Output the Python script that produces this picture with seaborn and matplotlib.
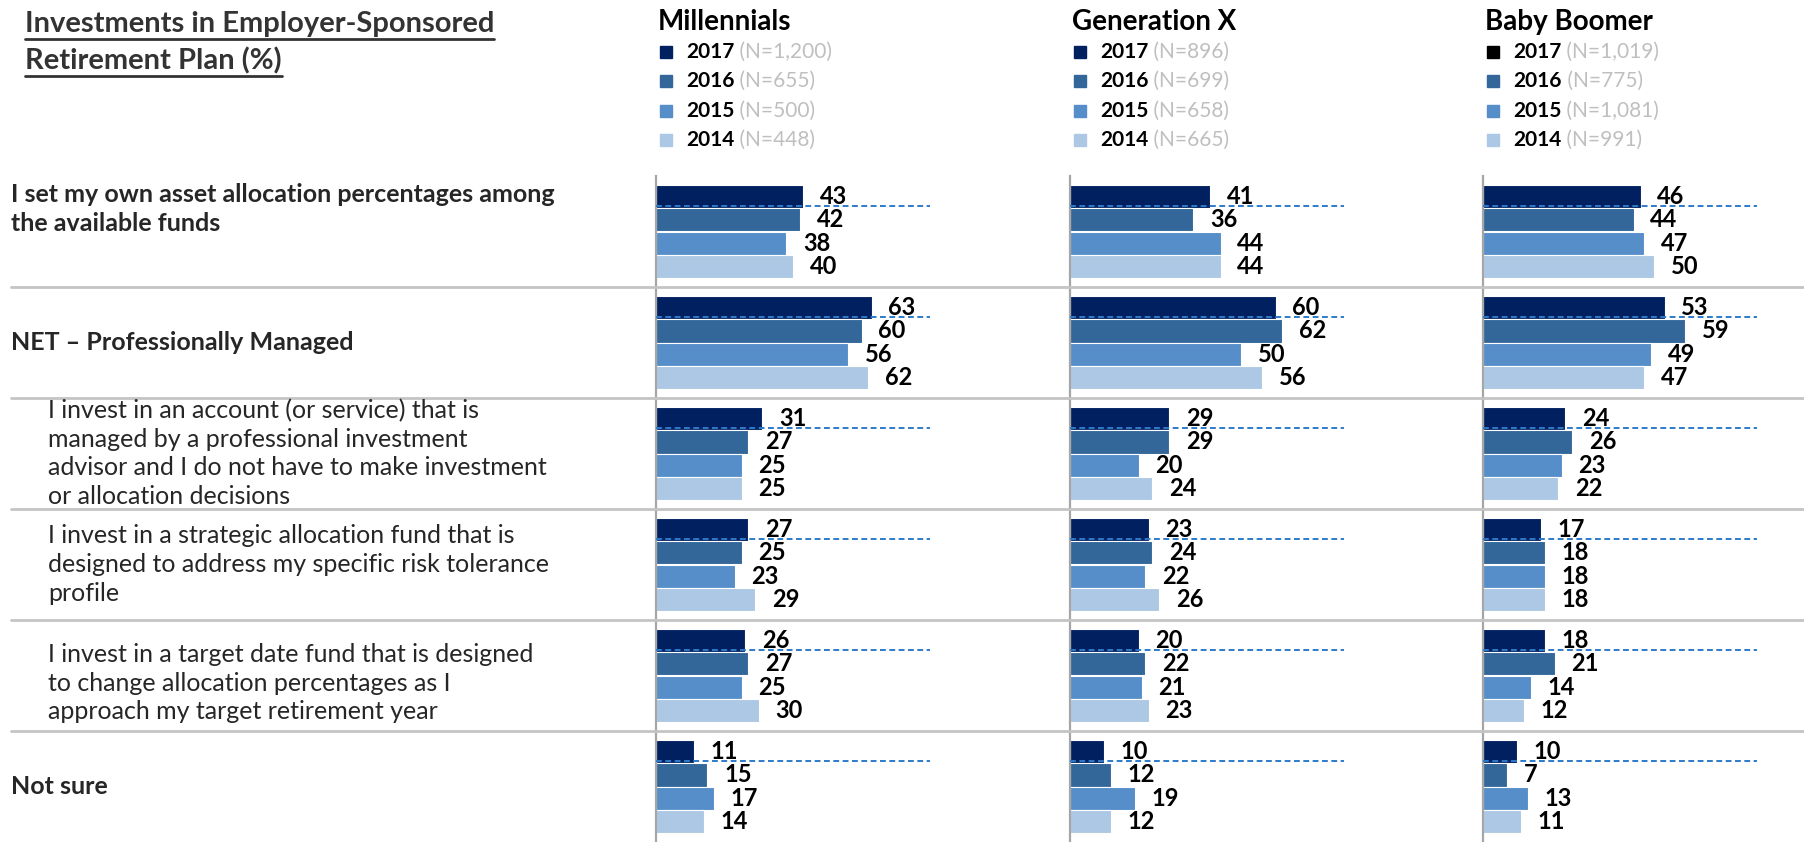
import pandas as pd
import seaborn as sns
import matplotlib.pyplot as plt
import matplotlib.transforms as mtransforms
from matplotlib.lines import Line2D

sns.set_style('white')
plt.rcParams['font.family'] = ['Lato', 'DejaVu Sans']

# ---- data ----
years = ['2017', '2016', '2015', '2014']
colors = ['#002060', '#336699', '#558ec9', '#adc8e4']

items = [
    'I set my own asset allocation percentages among\nthe available funds',
    'NET \u2013 Professionally Managed',
    'I invest in an account (or service) that is\nmanaged by a professional investment\nadvisor and I do not have to make investment\nor allocation decisions',
    'I invest in a strategic allocation fund that is\ndesigned to address my specific risk tolerance\nprofile',
    'I invest in a target date fund that is designed\nto change allocation percentages as I\napproach my target retirement year',
    'Not sure',
]
item_bold = [True, True, False, False, False, True]

groups = ['Millennials', 'Generation X', 'Baby Boomer']
sample_sizes = {
    'Millennials': ['N=1,200', 'N=655', 'N=500', 'N=448'],
    'Generation X': ['N=896', 'N=699', 'N=658', 'N=665'],
    'Baby Boomer': ['N=1,019', 'N=775', 'N=1,081', 'N=991'],
}

# values per item, in year order 2017, 2016, 2015, 2014
millennials = [
    [43, 42, 38, 40],
    [63, 60, 56, 62],
    [31, 27, 25, 25],
    [27, 25, 23, 29],
    [26, 27, 25, 30],
    [11, 15, 17, 14],
]
gen_x = [
    [41, 36, 44, 44],
    [60, 62, 50, 56],
    [29, 29, 20, 24],
    [23, 24, 22, 26],
    [20, 22, 21, 23],
    [10, 12, 19, 12],
]
boomers = [
    [46, 44, 47, 50],
    [53, 59, 49, 47],
    [24, 26, 23, 22],
    [17, 18, 18, 18],
    [18, 21, 14, 12],
    [10, 7, 13, 11],
]
values = {'Millennials': millennials, 'Generation X': gen_x, 'Baby Boomer': boomers}

rows = []
for g in groups:
    for i, vals in enumerate(values[g]):
        for y, v in zip(years, vals):
            rows.append({'group': g, 'item': i, 'year': y, 'value': v})
df = pd.DataFrame(rows)

# ---- layout ----
W, H = 1804, 842
fig = plt.figure(figsize=(W / 100, H / 100), dpi=100)

panel_left = [656, 1070, 1483]
panel_w = 274
panel_top = 176

axes = []
for k, g in enumerate(groups):
    ax = fig.add_axes([panel_left[k] / W, 0, panel_w / W, (H - panel_top) / H])
    ax.set_facecolor('none')
    d = df[df['group'] == g]
    sns.barplot(data=d, y='item', x='value', hue='year', hue_order=years,
                order=list(range(len(items))), orient='h', palette=colors,
                saturation=1, width=0.83, edgecolor='white', linewidth=0.8,
                legend=False, ax=ax)
    ax.set_xlim(0, 80)
    ax.set_ylim(len(items) - 0.5, -0.5)
    ax.set_xlabel('')
    ax.set_ylabel('')
    ax.set_xticks([])
    ax.set_yticks([])
    for s in ['top', 'right', 'bottom']:
        ax.spines[s].set_visible(False)
    ax.spines['left'].set_color('#a6a6a6')
    ax.spines['left'].set_linewidth(1.6)

    for cont in ax.containers:
        ax.bar_label(cont, padding=12, fontsize=17, fontweight='bold', color='black')

    # dashed reference line at the 2017 bar
    for bar in ax.containers[0]:
        yd = bar.get_y() + bar.get_height() * 0.88
        ax.plot(ax.get_xlim(), [yd, yd], ls=(0, (3, 1.8)), color='#2e7bc9',
                lw=1.4, clip_on=False, zorder=5)
    axes.append(ax)

# separators across the whole figure
trans = mtransforms.blended_transform_factory(fig.transFigure, axes[0].transData)
for i in range(len(items) - 1):
    fig.add_artist(Line2D([11 / W, 1.0], [i + 0.5, i + 0.5], transform=trans,
                          color='#c4c4c4', lw=2, zorder=1))

# row labels (small vertical nudges as in the original)
label_nudge = [-0.2, 0, 0.0, 0, 0.07, 0]
for i, (lab, b) in enumerate(zip(items, item_bold)):
    x = 11 / W if b else 48 / W
    fig.text(x, i + label_nudge[i], lab, transform=trans, va='center', ha='left',
             fontsize=18, fontweight='bold' if b else 'normal',
             color='#262626', linespacing=1.3)

# title with underline
title_lines = ['Investments in Employer-Sponsored', 'Retirement Plan (%)']
title_texts = []
for j, t in enumerate(title_lines):
    title_texts.append(fig.text(25 / W, 1 - (24 + 37 * j) / H, t, va='center', ha='left',
                                fontsize=21, fontweight='bold', color='#333333'))

# legends per generation
bg = fig.add_axes([0, 0, 1, 1], zorder=-1)
bg.axis('off')
legend_rows = [52, 81, 111, 140]
for k, g in enumerate(groups):
    x0 = panel_left[k]
    fig.text((x0 + 2) / W, 1 - 22 / H, g, fontsize=20, fontweight='bold',
             va='center', ha='left', color='black')
    for j, (y, c) in enumerate(zip(years, colors)):
        yy = 1 - legend_rows[j] / H
        sq = 'black' if (g == 'Baby Boomer' and j == 0) else c
        fig.add_artist(Line2D([(x0 + 10) / W], [yy], marker='s', markersize=8.5,
                              color=sq, transform=fig.transFigure))
        t = fig.text((x0 + 30) / W, yy, y, fontsize=15, fontweight='bold',
                     va='center', ha='left', color='black')
        bg.annotate(' (' + sample_sizes[g][j] + ')', xy=(1, 0.5), xycoords=t,
                    va='center', ha='left', fontsize=15, color='#bfbfbf')

fig.canvas.draw()
r = fig.canvas.get_renderer()
for t in title_texts:
    bb = t.get_window_extent(renderer=r).transformed(fig.transFigure.inverted())
    fig.add_artist(Line2D([bb.x0, bb.x1], [bb.y0 - 0.002, bb.y0 - 0.002],
                          color='#333333', lw=2, transform=fig.transFigure))

fig.savefig('out.png', dpi=100)
